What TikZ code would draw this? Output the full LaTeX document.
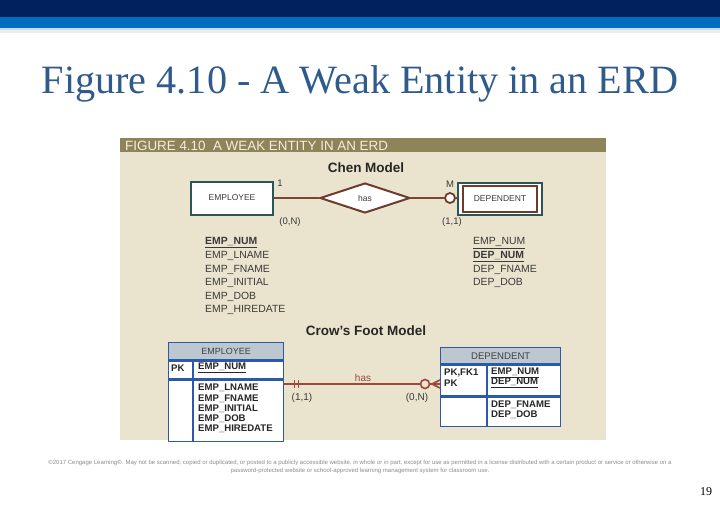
\documentclass[tikz,border=0pt]{standalone}
\usepackage{fontspec}
\setmainfont{Liberation Sans}
\newfontfamily\titlefont{Liberation Serif}
\usetikzlibrary{positioning,shapes.geometric}

\definecolor{navybar}{HTML}{00205E}
\definecolor{bluebar}{HTML}{006EC0}
\definecolor{lightbar}{HTML}{C9DDF0}
\definecolor{graybar}{HTML}{ECECEC}
\definecolor{titleblue}{HTML}{2F5B8C}
\definecolor{panelbg}{HTML}{EAE3CD}
\definecolor{olive}{HTML}{8F8459}
\definecolor{headtext}{HTML}{F3EEDD}
\definecolor{chenteal}{HTML}{2C5656}
\definecolor{chenbrown}{HTML}{6E3B2C}
\definecolor{chenline}{HTML}{7D4535}
\definecolor{cfblue}{HTML}{2B5BA8}
\definecolor{cfhead}{HTML}{BDC7CF}
\definecolor{cfred}{HTML}{A0463C}
\definecolor{textgray}{HTML}{3A3A3A}

\begin{document}
\begin{tikzpicture}[x=1pt, y=-1pt,
    modeltitle/.style={font=\bfseries\fontsize{13.5}{15}\selectfont, text=black!85},
    chenent/.style={draw=chenteal, line width=2pt, fill=white, minimum width=82pt, minimum height=33pt, inner sep=0pt, font=\fontsize{8.5}{10}\selectfont, text=textgray},
    chenlink/.style={draw=chenline, line width=2pt},
    chenlbl/.style={font=\fontsize{9.5}{11}\selectfont, text=textgray},
    chenattr/.style={anchor=west, inner sep=0pt, font=\fontsize{10.4}{12}\selectfont, text=textgray},
    cfbox/.style={draw=cfblue, line width=1.4pt, inner sep=0pt},
    cftext/.style={anchor=west, inner sep=0pt, font=\bfseries\fontsize{9.6}{11}\selectfont, text=black!85},
    cfrel/.style={draw=cfred, line width=1.6pt}]
\useasboundingbox (0,0) rectangle (720,504);
\fill[white] (0,0) rectangle (720,504);

% slide bars and title
\fill[navybar] (0,0) rectangle (720,17);
\fill[bluebar] (0,17) rectangle (720,28);
\fill[lightbar] (0,28) rectangle (720,30);
\fill[graybar] (0,30) rectangle (720,33);
\node[font=\titlefont\fontsize{40.2}{44}\selectfont, text=titleblue] (title) at (360,84) {Figure 4.10 - A Weak Entity in an ERD};

% figure panel
\fill[panelbg] (120,138) rectangle (606,440);
\fill[olive] (120,138) rectangle (606,152);
\node[anchor=west, inner sep=0pt, font=\fontsize{13.4}{14}\selectfont, text=headtext] (fighead) at (125,145.5) {FIGURE 4.10\ \ A WEAK ENTITY IN AN ERD};

% Chen model
\node[modeltitle] (chen) at (366,168) {Chen Model};
\node[chenent] (emp) at (232,198) {EMPLOYEE};
\node[diamond, draw=chenbrown, line width=2pt, fill=white, minimum width=90pt, minimum height=30pt, inner sep=0pt, font=\fontsize{8.5}{10}\selectfont, text=textgray] (has) at (365,198) {has};
\node[circle, draw=chenbrown, line width=1.8pt, fill=white, minimum size=10pt, inner sep=0pt] (opt) at (450,198) {};
\node[chenent, minimum width=84pt, minimum height=32pt] (depout) at (500,199) {};
\node[draw=chenbrown, line width=2pt, minimum width=74pt, minimum height=26pt, inner sep=0pt, font=\fontsize{8.5}{10}\selectfont, text=textgray] (dep) at (depout.center) {DEPENDENT};
\draw[chenlink] (emp) -- (has);
\draw[chenlink] (has) -- (opt);
\draw[chenlink] (opt) -- (depout);
\node[chenlbl] (one) at (280,183) {1};
\node[chenlbl] (many) at (450,184) {M};
\node[chenlbl] (empcard) at (290,222) {(0,N)};
\node[chenlbl] (depcard) at (452,222) {(1,1)};

\foreach \i/\attr in {0/{\textbf{\underline{EMP\_NUM}}},1/EMP\_LNAME,2/EMP\_FNAME,3/EMP\_INITIAL,4/EMP\_DOB,5/EMP\_HIREDATE}
    \node[chenattr] (ea\i) at (205,243+13.4*\i) {\attr};
\foreach \i/\attr in {0/{\underline{EMP\_NUM}},1/{\textbf{\underline{DEP\_NUM}}},2/DEP\_FNAME,3/DEP\_DOB}
    \node[chenattr] (da\i) at (473,243+13.4*\i) {\attr};

% Crow's Foot model
\node[modeltitle] (crow) at (366,331) {Crow's Foot Model};

\node[cfbox, fill=cfhead, minimum width=115pt, minimum height=17pt, anchor=north west, font=\fontsize{9}{10}\selectfont, text=black!75] (eh) at (168,342) {EMPLOYEE};
\node[cfbox, fill=white, minimum width=115pt, minimum height=18pt, anchor=north] (ek) at (eh.south) {};
\node[cfbox, fill=white, minimum width=115pt, minimum height=61pt, anchor=north] (eb) at (ek.south) {};
\draw[cfblue, line width=1.4pt] ([xshift=25pt]ek.north west) -- ([xshift=25pt]eb.south west);
\node[cftext] (ekpk) at (171,368) {PK};
\node[cftext] (eknum) at (198,368) {\underline{EMP\_NUM}};
\foreach \i/\attr in {0/EMP\_LNAME,1/EMP\_FNAME,2/EMP\_INITIAL,3/EMP\_DOB,4/EMP\_HIREDATE}
    \node[cftext] (eb\i) at (198,388+10.3*\i) {\attr};

\node[cfbox, fill=cfhead, minimum width=120pt, minimum height=16pt, anchor=north west, font=\fontsize{9.6}{11}\selectfont, text=black!75] (dh) at (440,347) {DEPENDENT};
\node[cfbox, fill=white, minimum width=120pt, minimum height=31pt, anchor=north] (dk) at (dh.south) {};
\node[cfbox, fill=white, minimum width=120pt, minimum height=29pt, anchor=north] (db) at (dk.south) {};
\draw[cfblue, line width=1.4pt] ([xshift=47pt]dk.north west) -- ([xshift=47pt]db.south west);
\node[cftext] (dkpk1) at (444,373) {PK,FK1};
\node[cftext] (dkpk2) at (444,383) {PK};
\node[cftext] (dknum1) at (491,373) {\underline{EMP\_NUM}};
\node[cftext] (dknum2) at (491,383) {\underline{DEP\_NUM}};
\node[cftext] (db0) at (491,405) {DEP\_FNAME};
\node[cftext] (db1) at (491,415) {DEP\_DOB};

% relationship line with cardinality marks
\coordinate (relY) at (0,384);
\coordinate (relL) at (eb.east |- relY);
\coordinate (relR) at (dk.west |- relY);
\draw[cfrel] (relL) -- (relR);
\draw[cfrel] ([xshift=10pt,yshift=4pt]relL) -- ([xshift=10pt,yshift=-4pt]relL);
\draw[cfrel] ([xshift=14pt,yshift=4pt]relL) -- ([xshift=14pt,yshift=-4pt]relL);
\node[circle, draw=cfred, line width=1.6pt, fill=panelbg, minimum size=9pt, inner sep=0pt] (zero) at ([xshift=-15pt]relR) {};
\draw[cfrel] ([xshift=-8pt]relR) -- ([yshift=4pt]relR);
\draw[cfrel] ([xshift=-8pt]relR) -- ([yshift=-4pt]relR);
\node[font=\fontsize{10}{11}\selectfont, text=cfred] (cfhas) at (363,378) {has};
\node[font=\fontsize{10}{11}\selectfont, text=textgray] (cfone) at (302,398) {(1,1)};
\node[font=\fontsize{10}{11}\selectfont, text=textgray] (cfmany) at (417,398) {(0,N)};

% footer
\node[align=center, font=\fontsize{6}{8}\selectfont, text=black!45] (foot) at (360,467) {\textcopyright 2017 Cengage Learning\textregistered. May not be scanned, copied or duplicated, or posted to a publicly accessible website, in whole or in part, except for use as permitted in a license distributed with a certain product or service or otherwise on a\\password-protected website or school-approved learning management system for classroom use.};
\node[font=\titlefont\fontsize{12}{14}\selectfont] (pagenum) at (706,492) {19};
\end{tikzpicture}
\end{document}
